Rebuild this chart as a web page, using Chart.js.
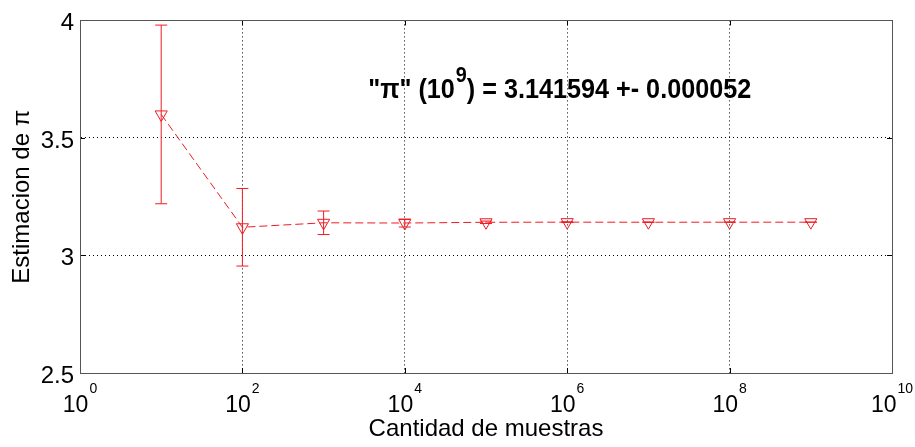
<!DOCTYPE html>
<html>
<head>
<meta charset="utf-8">
<script src="https://cdn.jsdelivr.net/npm/chart.js@4.4.0/dist/chart.umd.min.js"></script>
<style>
  body { margin: 0; background: #fff; }
</style>
</head>
<body>
<canvas id="myChart" width="915" height="447"></canvas>
<script>
// number of samples (x), estimate of pi and its error bar (half width)
const samples = [1e1, 1e2, 1e3, 1e4, 1e5, 1e6, 1e7, 1e8, 1e9];
const estimates = [3.600, 3.120, 3.139, 3.138, 3.1412, 3.1417, 3.1414, 3.14160, 3.141594];
const errors = [0.38, 0.165, 0.05, 0.017, 0.0052, 0.0017, 0.00052, 0.00016, 0.000052];

const xTickExps = [0, 2, 4, 6, 8, 10];
const yTicks = [2.5, 3, 3.5, 4];

const red = "#ee1c24";
const fam = "'Liberation Sans', Arial, sans-serif";
Chart.defaults.font.family = fam;

// one small line dataset per error bar, caps drawn as 'line' points
const errorSets = samples.map((n, i) => ({
  data: [{ x: n, y: estimates[i] - errors[i] }, { x: n, y: estimates[i] + errors[i] }],
  borderColor: red,
  borderWidth: 1,
  pointStyle: "line",
  pointRadius: 6,
  pointBorderWidth: 1,
  pointBorderColor: red,
}));

const mainSet = {
  data: samples.map((n, i) => ({ x: n, y: estimates[i] })),
  borderColor: red,
  borderWidth: 1,
  borderDash: [8, 4],
  pointStyle: "triangle",
  pointRotation: 180,
  pointRadius: 7,
  pointBorderWidth: 1,
  pointBorderColor: red,
  pointBackgroundColor: "rgba(0,0,0,0)",
};

const matlabBox = {
  id: "matlabBox",
  beforeDraw(chart) {
    const ctx = chart.ctx;
    ctx.save();
    ctx.fillStyle = "#fff";
    ctx.fillRect(0, 0, chart.width, chart.height);
    ctx.restore();
  },
  afterDraw(chart) {
    const ctx = chart.ctx;
    const a = chart.chartArea;
    const xs = chart.scales.x;
    const ys = chart.scales.y;
    ctx.save();

    // inner tick marks
    ctx.strokeStyle = "#000";
    ctx.lineWidth = 1;
    ctx.beginPath();
    xTickExps.forEach((e) => {
      const px = Math.round(xs.getPixelForValue(10 ** e)) + 0.5;
      ctx.moveTo(px, a.bottom); ctx.lineTo(px, a.bottom - 5);
      ctx.moveTo(px, a.top); ctx.lineTo(px, a.top + 5);
    });
    yTicks.forEach((v) => {
      const py = Math.round(ys.getPixelForValue(v)) + 0.5;
      ctx.moveTo(a.left, py); ctx.lineTo(a.left + 5, py);
      ctx.moveTo(a.right, py); ctx.lineTo(a.right - 5, py);
    });
    ctx.stroke();

    // box
    ctx.strokeStyle = "#555";
    ctx.strokeRect(Math.round(a.left) + 0.5, Math.round(a.top) + 0.5,
      Math.round(a.right - a.left), Math.round(a.bottom - a.top));

    // x tick labels 10^n
    ctx.fillStyle = "#000";
    ctx.textBaseline = "alphabetic";
    ctx.textAlign = "left";
    xTickExps.forEach((e) => {
      const px = xs.getPixelForValue(10 ** e);
      ctx.font = "23px " + fam;
      const w10 = ctx.measureText("10").width;
      ctx.font = "14px " + fam;
      const we = ctx.measureText(String(e)).width;
      const start = px - (w10 + 1 + we) / 2;
      ctx.font = "23px " + fam;
      ctx.fillText("10", start, 412);
      ctx.font = "14px " + fam;
      ctx.fillText(String(e), start + w10 + 1, 393);
    });

    // annotation
    const tx = xs.getPixelForValue(10 ** 3.55);
    const ty = ys.getPixelForValue(3.672);
    ctx.translate(tx, ty);
    ctx.scale(0.9, 1);
    let cx = 0;
    const part1 = "\"\u03c0\" (10";
    const part3 = ") = 3.141594 +- 0.000052";
    ctx.font = "bold 28px " + fam;
    ctx.fillText(part1, cx, 0);
    cx += ctx.measureText(part1).width;
    ctx.font = "bold 22px " + fam;
    ctx.fillText("9", cx + 1, -16);
    cx += ctx.measureText("9").width + 1;
    ctx.font = "bold 28px " + fam;
    ctx.fillText(part3, cx, 0);
    ctx.restore();
  },
};

new Chart("myChart", {
  type: "line",
  data: { datasets: [...errorSets, mainSet] },
  options: {
    responsive: false,
    animation: false,
    events: [],
    layout: { padding: { top: 16, right: 23, left: 0, bottom: 0 } },
    plugins: { legend: { display: false }, tooltip: { enabled: false } },
    scales: {
      x: {
        type: "logarithmic",
        min: 1,
        max: 1e10,
        afterBuildTicks: (s) => { s.ticks = xTickExps.map((e) => ({ value: 10 ** e })); },
        afterFit: (s) => { s.height = 74; },
        ticks: { display: false },
        grid: { color: "#000", lineWidth: 1, drawTicks: false },
        border: { color: "#555", width: 1, dash: [1, 3] },
        title: {
          display: true,
          text: "Cantidad de muestras",
          color: "#000",
          font: { size: 24 },
          padding: { top: 0, bottom: 3 },
        },
      },
      y: {
        min: 2.5,
        max: 4,
        afterBuildTicks: (s) => { s.ticks = yTicks.map((v) => ({ value: v })); },
        afterFit: (s) => { s.width = 80; },
        ticks: {
          color: "#000",
          font: { size: 24 },
          padding: 6,
          labelOffset: 3,
          callback: (v) => String(v),
        },
        grid: { color: "#000", lineWidth: 1, drawTicks: false },
        border: { color: "#555", width: 1, dash: [1, 3] },
        title: {
          display: true,
          text: "Estimacion de \u03c0",
          color: "#000",
          font: { size: 24 },
          padding: { top: 8, bottom: 0 },
        },
      },
    },
  },
  plugins: [matlabBox],
});
</script>
</body>
</html>
